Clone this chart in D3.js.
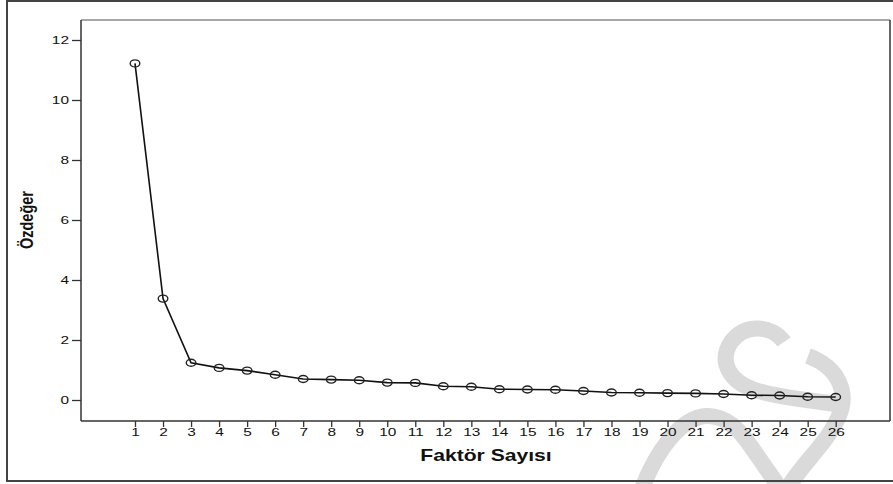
<!DOCTYPE html>
<html><head><meta charset="utf-8">
<script src="https://cdn.jsdelivr.net/npm/d3@7/dist/d3.min.js"></script>
<style>
html,body{margin:0;padding:0;background:#fff;}
svg{display:block;}
text{font-family:"Liberation Sans",Arial,sans-serif;}
</style></head>
<body>
<script>
const factors = [1,2,3,4,5,6,7,8,9,10,11,12,13,14,15,16,17,18,19,20,21,22,23,24,25,26];
const eigenvalues = [11.22,3.38,1.24,1.07,0.98,0.84,0.70,0.68,0.66,0.58,0.57,0.46,0.44,0.36,0.35,0.34,0.30,0.25,0.24,0.23,0.22,0.20,0.16,0.15,0.11,0.10];
const yTicks = [0,2,4,6,8,10,12];
const xLabel = "Faktör Sayısı";
const yLabel = "Özdeğer";

const W = 893, H = 484;
const SX = 1.4; // horizontal stretch of the original picture
const svg = d3.select("body").append("svg").attr("width", W).attr("height", H);

// watermark (light gray)
const wm = svg.append("g").attr("fill","none").attr("stroke","#dadada").attr("stroke-width",16);
wm.append("path").attr("d","M 784 342 C 772 325, 745 323, 731 342 C 718 362, 730 382, 755 390 C 780 398, 810 400, 836 404");
wm.append("path").attr("d","M 808 356 C 838 367, 850 392, 838 418 C 826 445, 800 465, 784 494");
wm.append("path").attr("d","M 640 494 C 655 452, 680 418, 706 416 C 726 415, 740 430, 752 448 L 784 494");

// outer frame
svg.append("rect").attr("x",7).attr("y",1).attr("width",W+10).attr("height",480)
  .attr("fill","none").attr("stroke","#444").attr("stroke-width",2);

const plotL = 81, plotT = 20, plotR = 890, plotB = 421;
const x = d3.scaleLinear().domain([1,26]).range([135,835.7]);
const y = d3.scaleLinear().domain([0,12]).range([400,40]);

// plot frame
svg.append("line").attr("x1",plotL).attr("x2",plotR).attr("y1",plotT).attr("y2",plotT).attr("stroke","#888").attr("stroke-width",1.5);
svg.append("line").attr("x1",plotR).attr("x2",plotR).attr("y1",plotT).attr("y2",plotB).attr("stroke","#333").attr("stroke-width",1.5);

// axes
const yAxis = svg.append("g").attr("transform",`translate(${plotL},0)`)
  .call(d3.axisLeft(y).tickValues(yTicks).tickSize(9).tickPadding(3).tickFormat(d3.format("d")));
yAxis.select(".domain").attr("d",`M0,${plotT}V${plotB}`).attr("stroke","#333").attr("stroke-width",1.5);
yAxis.selectAll(".tick line").attr("stroke","#333").attr("stroke-width",1.3);
yAxis.selectAll("text").attr("font-size",11).attr("fill","#111")
  .attr("x", -12/SX).attr("transform",`scale(${SX},1)`);

const xAxis = svg.append("g").attr("transform",`translate(0,${plotB})`)
  .call(d3.axisBottom(x).tickValues(factors).tickSize(6).tickPadding(1).tickFormat(d3.format("d")));
xAxis.select(".domain").attr("d",`M${plotL},0H${plotR}`).attr("stroke","#333").attr("stroke-width",1.5);
xAxis.selectAll(".tick line").attr("stroke","#333").attr("stroke-width",1.3);
xAxis.selectAll("text").attr("font-size",11).attr("fill","#111").attr("transform",`scale(${SX},1)`);

// axis titles
svg.append("text").attr("transform","translate(486,461) scale(1.28,1)").attr("text-anchor","middle")
  .attr("font-weight","bold").attr("font-size",16.5).attr("fill","#111").text(xLabel);
svg.append("text").attr("transform","translate(33.3,220) scale(1.3,1) rotate(-90)").attr("text-anchor","middle")
  .attr("font-weight","bold").attr("font-size",14.5).attr("fill","#111").text(yLabel);

// line + markers
const data = factors.map((f,i)=>({f, v: eigenvalues[i]}));
svg.append("path").datum(data)
  .attr("d", d3.line().x(d=>x(d.f)).y(d=>y(d.v)))
  .attr("fill","none").attr("stroke","#111").attr("stroke-width",1.6);
svg.append("g").selectAll("ellipse").data(data).join("ellipse")
  .attr("cx",d=>x(d.f)).attr("cy",d=>y(d.v)).attr("rx",4.8).attr("ry",3.5)
  .attr("fill","none").attr("stroke","#222").attr("stroke-width",1.4);
</script>
</body></html>
